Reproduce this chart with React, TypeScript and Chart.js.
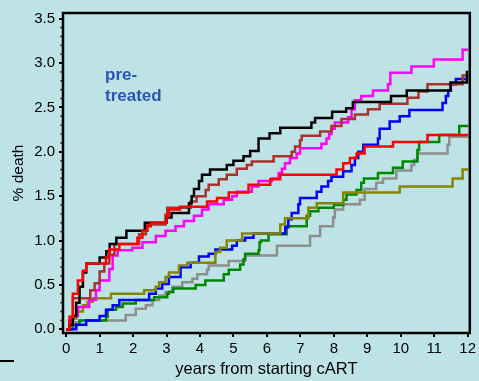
import React, { useEffect, useRef } from "react";
import { Chart, registerables } from "chart.js";

Chart.register(...registerables);

// ---- data ----
const xTickValues = [0, 1, 2, 3, 4, 5, 6, 7, 8, 9, 10, 11, 12];
const yTickValues = [0, 0.5, 1.0, 1.5, 2.0, 2.5, 3.0, 3.5];
const yMinorTickValues = [
  0.1, 0.2, 0.3, 0.4, 0.6, 0.7, 0.8, 0.9, 1.1, 1.2, 1.3, 1.4, 1.6, 1.7, 1.8, 1.9,
  2.1, 2.2, 2.3, 2.4, 2.6, 2.7, 2.8, 2.9, 3.1, 3.2, 3.3, 3.4,
];

const xTitle = "years from starting cART";
const yTitle = "% death";
const groupLabel = ["pre-", "treated"];

// step points [years, % death] (value after each step)
const blackSteps = [[0,0],[0.1,0.05],[0.2,0.15],[0.3,0.3],[0.4,0.48],[0.5,0.64],[0.6,0.74],[1.0,0.81],[1.2,0.88],[1.3,0.96],[1.5,1.03],[1.8,1.11],[2.35,1.2],[3.0,1.26],[3.15,1.31],[3.67,1.42],[3.75,1.5],[3.82,1.58],[3.97,1.67],[4.06,1.74],[4.3,1.8],[4.8,1.85],[5.0,1.9],[5.3,1.95],[5.5,2.01],[5.75,2.15],[6.08,2.21],[6.4,2.27],[7.33,2.33],[7.44,2.38],[7.95,2.45],[8.37,2.49],[8.57,2.56],[9.71,2.63],[10.18,2.69],[11.49,2.78],[11.98,2.9],[12.02,2.9]];
const brownSteps = [[0,0],[0.1,0.1],[0.2,0.35],[0.72,0.44],[0.85,0.52],[1.0,0.65],[1.14,0.74],[1.29,0.84],[1.44,0.96],[2.18,1.07],[2.38,1.18],[2.97,1.29],[3.02,1.37],[3.72,1.44],[3.9,1.5],[4.17,1.57],[4.26,1.63],[4.56,1.69],[4.8,1.74],[5.1,1.81],[5.4,1.85],[5.55,1.89],[6.2,1.95],[6.74,2.0],[6.84,2.06],[6.99,2.13],[7.04,2.18],[7.59,2.23],[7.93,2.29],[8.23,2.37],[8.63,2.42],[9.02,2.48],[9.37,2.54],[10.2,2.61],[10.53,2.68],[10.8,2.76],[11.85,2.86],[12.02,2.86]];
const redSteps = [[0,0],[0.1,0.14],[0.2,0.4],[0.35,0.55],[0.5,0.66],[0.6,0.74],[1.19,0.81],[1.29,0.9],[1.59,0.96],[2.13,1.03],[2.28,1.11],[2.43,1.16],[2.53,1.2],[3.0,1.28],[3.07,1.35],[3.4,1.38],[4.21,1.44],[4.51,1.48],[4.86,1.54],[5.45,1.63],[6.1,1.69],[6.4,1.74],[8.08,1.8],[8.28,1.87],[8.48,1.93],[8.68,1.98],[8.92,2.06],[9.77,2.11],[10.8,2.19],[12.02,2.19]];
const magentaSteps = [[0,0],[0.1,0.05],[0.2,0.15],[0.35,0.25],[0.69,0.33],[0.89,0.44],[1.0,0.55],[1.29,0.68],[1.39,0.83],[1.54,0.89],[1.98,0.92],[2.28,0.98],[2.68,1.05],[2.97,1.11],[3.27,1.16],[3.52,1.22],[3.82,1.28],[4.06,1.35],[4.26,1.41],[4.71,1.46],[4.96,1.5],[5.1,1.55],[5.55,1.61],[5.75,1.67],[6.15,1.7],[6.35,1.76],[6.45,1.81],[6.54,1.87],[6.69,1.93],[6.89,1.98],[6.99,2.04],[7.63,2.09],[7.78,2.15],[7.86,2.2],[7.93,2.26],[8.03,2.33],[8.43,2.39],[8.53,2.48],[8.63,2.58],[8.82,2.63],[9.17,2.69],[9.62,2.76],[9.69,2.89],[10.32,2.96],[10.99,3.04],[11.85,3.15],[12.02,3.15]];
const blueSteps = [[0,0],[0.3,0.05],[0.6,0.1],[1.0,0.15],[1.19,0.22],[1.39,0.27],[1.59,0.33],[2.48,0.4],[2.68,0.46],[2.87,0.51],[3.07,0.59],[3.42,0.7],[3.72,0.75],[3.97,0.82],[4.26,0.85],[4.46,0.9],[4.96,0.94],[5.1,1.0],[5.35,1.03],[5.6,1.08],[6.55,1.15],[6.64,1.24],[6.74,1.31],[6.94,1.41],[6.99,1.48],[7.49,1.55],[7.63,1.61],[7.83,1.67],[7.93,1.72],[8.28,1.78],[8.53,1.85],[8.63,1.93],[8.73,2.0],[8.88,2.08],[9.32,2.15],[9.37,2.26],[9.67,2.34],[9.97,2.4],[10.26,2.47],[11.25,2.55],[11.35,2.63],[11.42,2.69],[11.5,2.76],[11.65,2.82],[12.02,2.82]];
const greenSteps = [[0,0],[0.2,0.05],[0.4,0.1],[1.19,0.14],[1.24,0.22],[1.49,0.25],[1.69,0.29],[2.08,0.33],[2.63,0.36],[3.02,0.4],[3.07,0.42],[3.2,0.46],[3.87,0.5],[4.16,0.55],[4.71,0.62],[4.86,0.67],[5.2,0.73],[5.3,0.79],[5.35,0.85],[5.75,0.89],[5.78,0.98],[5.82,1.0],[6.05,1.07],[6.59,1.16],[7.19,1.28],[7.29,1.33],[7.54,1.37],[8.0,1.4],[8.28,1.46],[8.38,1.52],[8.68,1.57],[8.82,1.65],[8.9,1.7],[9.32,1.76],[9.77,1.82],[10.06,1.89],[10.5,2.02],[10.55,2.11],[11.15,2.19],[11.75,2.29],[12.02,2.29]];
const graySteps = [[0,0],[0.1,0.03],[0.3,0.08],[0.4,0.1],[1.78,0.16],[2.08,0.23],[2.38,0.27],[2.58,0.33],[2.78,0.38],[2.97,0.42],[3.17,0.48],[3.47,0.53],[3.77,0.57],[3.92,0.62],[4.21,0.67],[4.26,0.72],[4.86,0.77],[5.35,0.83],[6.3,0.94],[7.29,1.05],[7.59,1.16],[7.98,1.26],[8.03,1.35],[8.28,1.41],[8.78,1.46],[8.92,1.58],[9.27,1.65],[9.47,1.7],[9.87,1.79],[10.32,1.85],[10.4,1.91],[10.5,1.98],[11.4,2.08],[11.45,2.17],[12.02,2.17]];
const oliveSteps = [[0,0],[0.1,0.05],[0.2,0.12],[0.3,0.2],[0.5,0.27],[0.64,0.31],[0.79,0.35],[1.34,0.4],[2.33,0.44],[2.68,0.48],[2.78,0.53],[2.97,0.59],[3.07,0.64],[3.37,0.72],[3.62,0.75],[4.46,0.87],[4.6,0.92],[4.8,1.0],[5.26,1.08],[6.4,1.18],[6.54,1.25],[7.24,1.37],[7.49,1.42],[8.28,1.54],[9.97,1.61],[11.55,1.7],[11.85,1.8],[12.02,1.8]];

const seriesList = [
  { name: "red", steps: redSteps, color: "#ff0000" },
  { name: "black", steps: blackSteps, color: "#000000" },
  { name: "brown", steps: brownSteps, color: "#a8322d" },
  { name: "magenta", steps: magentaSteps, color: "#ff00ff" },
  { name: "olive", steps: oliveSteps, color: "#858500" },
  { name: "blue", steps: blueSteps, color: "#0000ff" },
  { name: "green", steps: greenSteps, color: "#008800" },
  { name: "gray", steps: graySteps, color: "#8e8e8e" },
];

const BG = "#bee3e6";
const FONT = "'Liberation Sans', Arial, sans-serif";

const framePlugin = {
  id: "frameAndMinor",
  afterDraw(chart: any) {
    const { ctx, chartArea: a, scales } = chart;
    ctx.save();
    ctx.strokeStyle = "#000";
    ctx.lineWidth = 1.5;
    const ys = scales.y;
    for (const v of yMinorTickValues) {
      const py = ys.getPixelForValue(v);
      ctx.beginPath();
      ctx.moveTo(a.left - 2.5, py);
      ctx.lineTo(a.left, py);
      ctx.stroke();
    }
    ctx.lineWidth = 2.5;
    ctx.strokeRect(a.left, a.top, a.right - a.left, a.bottom - a.top);
    ctx.restore();
  },
};

export default function App() {
  const ref = useRef<HTMLCanvasElement | null>(null);

  useEffect(() => {
    if (!ref.current) return;
    const chart = new Chart(ref.current, {
      type: "line",
      data: {
        datasets: seriesList.map((s) => ({
          label: s.name,
          data: s.steps.map(([x, y]) => ({ x, y })),
          borderColor: s.color,
          backgroundColor: s.color,
          borderWidth: 2.5,
          pointRadius: 0,
          stepped: true,
          fill: false,
        })),
      },
      options: {
        animation: false,
        responsive: false,
        devicePixelRatio: 1,
        layout: { padding: { top: 12, right: 6, left: 0, bottom: 0 } },
        plugins: { legend: { display: false }, tooltip: { enabled: false } },
        scales: {
          x: {
            type: "linear",
            min: -0.095,
            max: 12.065,
            afterBuildTicks: (s: any) => {
              s.ticks = xTickValues.map((v) => ({ value: v }));
            },
            afterFit: (s: any) => {
              s.height = 48;
            },
            ticks: {
              color: "#000",
              font: { family: FONT, size: 15 },
              padding: 3,
              maxRotation: 0,
              autoSkip: false,
              callback: (v: any) => String(v),
            },
            grid: {
              drawOnChartArea: false,
              drawTicks: true,
              tickLength: 4,
              color: "#000",
              lineWidth: 2,
            },
            border: { display: false },
            title: {
              display: true,
              text: xTitle,
              color: "#000",
              font: { family: FONT, size: 16.5 },
              padding: { top: 0, bottom: 2 },
            },
          },
          y: {
            type: "linear",
            min: -0.042,
            max: 3.564,
            afterBuildTicks: (s: any) => {
              s.ticks = yTickValues.map((v) => ({ value: v }));
            },
            afterFit: (s: any) => {
              s.width = 63;
            },
            ticks: {
              color: "#000",
              font: { family: FONT, size: 15 },
              padding: 4,
              autoSkip: false,
              callback: (v: any) => Number(v).toFixed(1),
            },
            grid: {
              drawOnChartArea: false,
              drawTicks: true,
              tickLength: 4,
              color: "#000",
              lineWidth: 2,
            },
            border: { display: false },
            title: {
              display: true,
              text: yTitle,
              color: "#000",
              font: { family: FONT, size: 15.5 },
              padding: { top: 9, bottom: 0 },
            },
          },
        },
      },
      plugins: [framePlugin],
    } as any);
    return () => chart.destroy();
  }, []);

  return (
    <div
      style={{
        position: "fixed",
        left: 0,
        top: 0,
        width: 479,
        height: 381,
        background: BG,
        overflow: "hidden",
      }}
    >
      <canvas ref={ref} width={479} height={381} style={{ display: "block", width: 479, height: 381 }} />
      <div
        style={{
          position: "absolute",
          left: 105,
          top: 64,
          fontFamily: FONT,
          fontSize: 17,
          fontWeight: "bold",
          lineHeight: "21px",
          color: "#2a55b0",
          whiteSpace: "pre",
        }}
      >
        {groupLabel[0]}
        <br />
        {groupLabel[1]}
      </div>
      <div
        style={{
          position: "absolute",
          left: 0,
          top: 359.5,
          width: 14,
          height: 2.5,
          background: "#000",
        }}
      />
    </div>
  );
}
